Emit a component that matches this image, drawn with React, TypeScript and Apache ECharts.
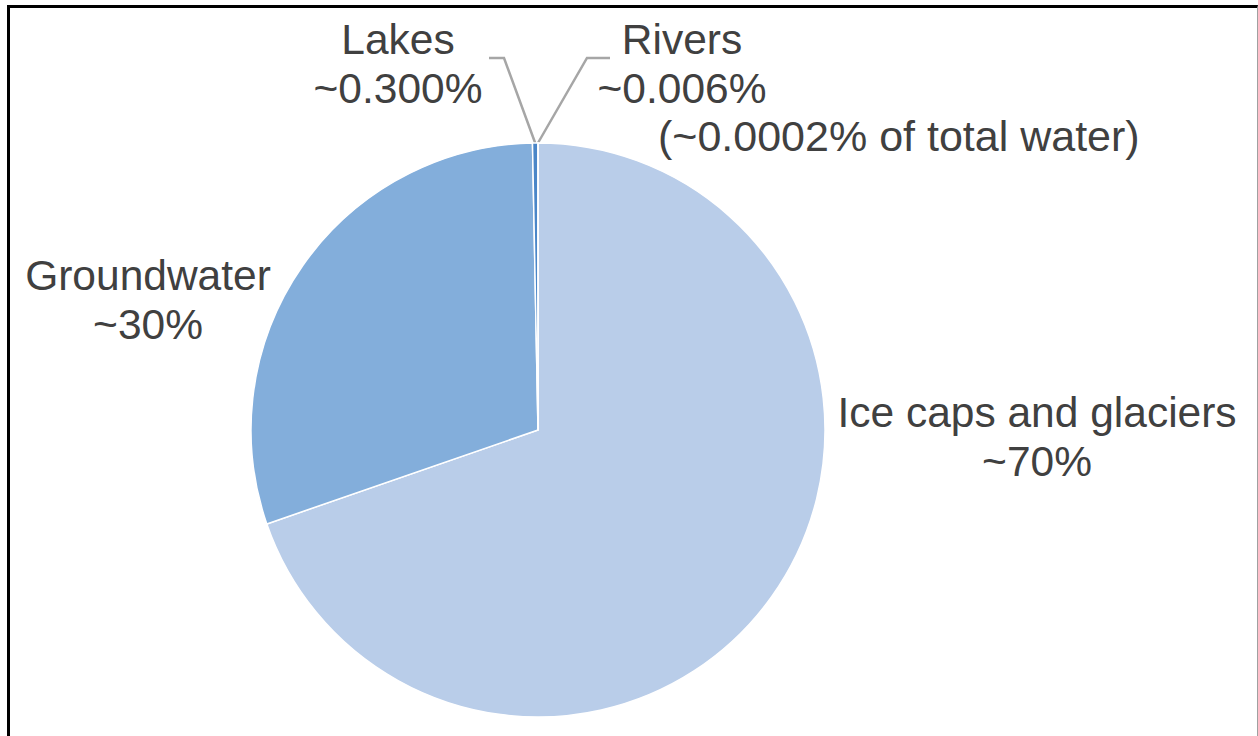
import React, { useEffect, useRef } from "react";
import * as echarts from "echarts";

const categories = ["Ice caps and glaciers", "Groundwater", "Lakes", "Rivers"];
const values = [69.694, 30, 0.3, 0.006];
const pctLabels = ["~70%", "~30%", "~0.300%", "~0.006%"];
const riversNote = "(~0.0002% of total water)";

const colors = ["#b9cde9", "#83aedb", "#4a86c8", "#2e75b6"];

// label placement (style/layout, not data)
const labelPos = [
  { x: 1037, y: 437 },
  { x: 148, y: 300 },
  { x: 398, y: 64 },
  { x: 682, y: 64 },
];
const linePts: (number[][] | null)[] = [
  null,
  null,
  [[504, 58], [489, 58]],
  [[587, 58], [610, 58]],
];

const FONT = "'Liberation Sans', Arial, sans-serif";

export default function App() {
  const ref = useRef<HTMLDivElement>(null);
  useEffect(() => {
    if (!ref.current) return;
    const chart = echarts.init(ref.current, undefined, { renderer: "svg" });
    const cx = 538;
    const cy = 430;
    const r = 287;
    const total = values.reduce((a, b) => a + b, 0);
    let acc = 0;
    const mids = values.map((v) => {
      const m = acc + v / 2;
      acc += v;
      return (m / total) * Math.PI * 2;
    });
    chart.setOption({
      animation: false,
      backgroundColor: "#ffffff",
      graphic: [
        {
          type: "text",
          x: 658,
          y: 136,
          style: {
            text: riversNote,
            fill: "#404040",
            font: `43px ${FONT}`,
            verticalAlign: "middle",
            align: "left",
          },
        },
      ],
      series: [
        {
          type: "pie",
          center: [cx, cy],
          radius: r,
          startAngle: 90,
          clockwise: true,
          avoidLabelOverlap: false,
          itemStyle: { borderColor: "#ffffff", borderWidth: 1.5 },
          label: {
            show: true,
            position: "outside",
            formatter: (p: any) => `${p.name}\n${pctLabels[p.dataIndex]}`,
            color: "#404040",
            fontFamily: FONT,
            fontSize: 42.5,
            lineHeight: 49,
            align: "center",
          },
          labelLine: {
            show: true,
            length: 10,
            length2: 10,
            lineStyle: { color: "#a6a6a6", width: 2.5 },
          },
          labelLayout: (params: any) => {
            const i = params.dataIndex;
            const pos = labelPos[i];
            const out: any = {
              x: pos.x,
              y: pos.y,
              align: "center",
              verticalAlign: "middle",
            };
            const extra = linePts[i];
            if (extra) {
              const a = mids[i];
              const p0 =
                params.labelLinePoints && params.labelLinePoints[0]
                  ? params.labelLinePoints[0]
                  : [cx + r * Math.sin(a), cy - r * Math.cos(a)];
              out.labelLinePoints = [p0, extra[0], extra[1]];
            }
            return out;
          },
          data: categories.map((name, i) => ({
            name,
            value: values[i],
            itemStyle: { color: colors[i] },
            labelLine: { show: linePts[i] !== null },
          })),
        },
      ],
    });
    return () => chart.dispose();
  }, []);

  return (
    <div
      style={{
        position: "fixed",
        left: 0,
        top: 0,
        width: 1258,
        height: 736,
        background: "#fff",
      }}
    >
      <div ref={ref} style={{ position: "absolute", left: 0, top: 0, width: 1258, height: 736 }} />
      <div
        style={{
          position: "absolute",
          left: 7,
          top: 5,
          width: 1258 - 7 - 3 - 1,
          height: 736 - 5,
          borderLeft: "3px solid #000",
          borderTop: "3px solid #000",
          borderRight: "1px solid #a0a0a0",
          pointerEvents: "none",
        }}
      />
    </div>
  );
}
